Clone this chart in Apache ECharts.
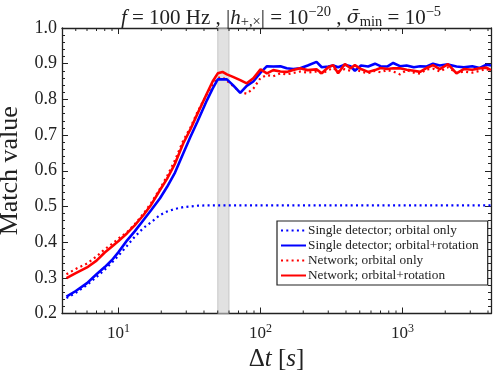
<!DOCTYPE html>
<html>
<head>
<meta charset="utf-8">
<script src="https://cdn.jsdelivr.net/npm/echarts@6/dist/echarts.min.js"></script>
<style>html,body{margin:0;padding:0;background:#fff;}#c{width:499px;height:372px;}</style>
</head>
<body>
<div id="c"></div>
<script>
const dt = [4.3, 5, 6, 7, 8, 9, 10, 11.5, 13, 15, 17, 19.6, 22, 25, 28.6, 32, 36, 42, 46, 50, 54, 58, 64, 72, 80, 89, 100, 111, 123, 138, 153, 170, 190, 215, 248, 270, 300, 325, 352, 393, 430, 462, 510, 573, 640, 700, 780, 860, 960, 1070, 1200, 1330, 1480, 1640, 1830, 2090, 2400, 2700, 3100, 3500, 3900, 4200];

const singleOrbital = [0.243, 0.258, 0.28, 0.302, 0.323, 0.343, 0.362, 0.39, 0.415, 0.44, 0.456, 0.476, 0.486, 0.493, 0.498, 0.5, 0.502, 0.503, 0.503, 0.503, 0.503, 0.503, 0.503, 0.503, 0.503, 0.503, 0.503, 0.503, 0.503, 0.503, 0.503, 0.503, 0.503, 0.503, 0.503, 0.503, 0.503, 0.503, 0.503, 0.503, 0.503, 0.503, 0.503, 0.503, 0.503, 0.503, 0.503, 0.503, 0.503, 0.503, 0.503, 0.503, 0.503, 0.503, 0.503, 0.503, 0.503, 0.503, 0.503, 0.503, 0.503, 0.503];

const singleRot = [0.247, 0.263, 0.285, 0.31, 0.33, 0.35, 0.372, 0.405, 0.43, 0.462, 0.49, 0.523, 0.555, 0.595, 0.649, 0.694, 0.738, 0.798, 0.83, 0.856, 0.856, 0.856, 0.84, 0.818, 0.838, 0.85, 0.875, 0.893, 0.892, 0.893, 0.887, 0.885, 0.887, 0.895, 0.905, 0.89, 0.892, 0.895, 0.89, 0.897, 0.893, 0.88, 0.895, 0.892, 0.9, 0.893, 0.892, 0.902, 0.893, 0.895, 0.89, 0.893, 0.892, 0.9, 0.895, 0.898, 0.892, 0.89, 0.893, 0.888, 0.897, 0.895];

const netOrbital = [0.31, 0.325, 0.34, 0.36, 0.38, 0.395, 0.41, 0.428, 0.45, 0.48, 0.51, 0.55, 0.585, 0.63, 0.685, 0.72, 0.765, 0.815, 0.842, 0.86, 0.862, 0.852, 0.838, 0.82, 0.816, 0.83, 0.86, 0.868, 0.865, 0.873, 0.87, 0.874, 0.878, 0.875, 0.878, 0.872, 0.882, 0.888, 0.878, 0.885, 0.88, 0.884, 0.878, 0.873, 0.88, 0.876, 0.882, 0.878, 0.87, 0.882, 0.875, 0.872, 0.884, 0.886, 0.878, 0.89, 0.874, 0.878, 0.875, 0.88, 0.885, 0.88];

const netRot = [0.299, 0.313, 0.329, 0.348, 0.371, 0.388, 0.403, 0.425, 0.447, 0.476, 0.505, 0.546, 0.578, 0.62, 0.677, 0.715, 0.76, 0.817, 0.85, 0.873, 0.877, 0.87, 0.863, 0.854, 0.845, 0.859, 0.884, 0.873, 0.882, 0.878, 0.877, 0.882, 0.887, 0.882, 0.884, 0.873, 0.89, 0.896, 0.873, 0.899, 0.887, 0.896, 0.885, 0.877, 0.882, 0.888, 0.885, 0.887, 0.887, 0.883, 0.88, 0.877, 0.888, 0.896, 0.885, 0.899, 0.873, 0.885, 0.883, 0.887, 0.889, 0.882];

const seriesNames = ['Single detector; orbital only', 'Single detector; orbital+rotation', 'Network; orbital only', 'Network; orbital+rotation'];
const yTicks = [0.2, 0.3, 0.4, 0.5, 0.6, 0.7, 0.8, 0.9, 1.0];
const band = [50, 60];
const xMin = 4, xMax = 4200;

const FONT = '"Liberation Serif", "DejaVu Serif", serif';
const INK = '#222';
const pairs = arr => dt.map((x, i) => [x, arr[i]]);

// minor tick positions for the log axis (2..9 x 10^k)
const minorX = [];
for (let k = 0; k <= 3; k++) {
  for (let m = 2; m <= 9; m++) {
    const v = m * Math.pow(10, k);
    if (v > xMin && v < xMax) minorX.push([v, 0.2]);
  }
}

const chart = echarts.init(document.getElementById('c'), null, {renderer: 'canvas'});
const axisCommon = {
  axisLine: {lineStyle: {color: INK, width: 1.3}},
  splitLine: {show: false},
};
chart.setOption({
  animation: false,
  backgroundColor: '#fff',
  title: {
    text: '{i|f} = 100 Hz , |{i|h}{sub|+,×}| = 10{sup|−20} , {s|σ̄}{sub|min} = 10{sup|−5}',
    left: 276, top: 0, textAlign: 'center',
    textStyle: {
      fontFamily: FONT, fontSize: 21, fontWeight: 'normal', color: INK,
      rich: {
        i: {fontFamily: FONT, fontSize: 21, fontStyle: 'italic', color: INK},
        s: {fontFamily: '"DejaVu Serif", serif', fontSize: 19, fontStyle: 'italic', color: INK},
        sup: {fontFamily: FONT, fontSize: 14.5, color: INK, padding: [0, 0, 11, 0]},
        sub: {fontFamily: FONT, fontSize: 14.5, color: INK, padding: [8, 0, 0, 0]}
      }
    }
  },
  grid: {left: 62, top: 28, width: 429, height: 285.5, containLabel: false, outerBoundsMode: 'none'},
  legend: {
    data: seriesNames,
    orient: 'vertical',
    left: 277, top: 221,
    backgroundColor: '#fff',
    borderColor: INK, borderWidth: 1.2,
    padding: [3, 9, 3, 3],
    itemGap: 2,
    itemWidth: 25, itemHeight: 14,
    itemStyle: {opacity: 0},
    textStyle: {fontFamily: FONT, fontSize: 13.3, color: INK, padding: [0, 0, 0, -3]}
  },
  xAxis: [
    Object.assign({
      type: 'log', logBase: 10, min: xMin, max: xMax, position: 'bottom',
      name: 'Δ{i|t} [{i|s}]', nameLocation: 'middle', nameGap: 32,
      nameTextStyle: {fontFamily: FONT, fontSize: 25, color: INK,
        rich: {i: {fontFamily: FONT, fontSize: 25, fontStyle: 'italic', color: INK}}},
      axisTick: {inside: true, length: 6, lineStyle: {color: INK}},
      axisLabel: {
        showMinLabel: false, showMaxLabel: false, margin: 9,
        formatter: v => {
          const e = Math.round(Math.log10(v));
          if (Math.abs(Math.log10(v) - e) > 1e-6) return '';
          return '10{sup|' + e + '}';
        },
        fontFamily: FONT, fontSize: 17, color: INK,
        rich: {sup: {fontFamily: FONT, fontSize: 12, color: INK, padding: [0, 0, 10, 0]}}
      }
    }, axisCommon),
    Object.assign({
      type: 'log', logBase: 10, min: xMin, max: xMax, position: 'top',
      axisTick: {inside: true, length: 6, lineStyle: {color: INK}},
      axisLabel: {show: false}
    }, axisCommon)
  ],
  yAxis: [
    Object.assign({
      type: 'value', min: yTicks[0], max: yTicks[yTicks.length - 1], interval: 0.1, position: 'left',
      name: 'Match value', nameLocation: 'middle', nameGap: 34, nameRotate: 90,
      nameTextStyle: {fontFamily: FONT, fontSize: 26, color: INK},
      axisTick: {inside: true, length: 6, lineStyle: {color: INK}},
      minorTick: {show: true, splitNumber: 5, length: 3, lineStyle: {color: INK}},
      axisLabel: {margin: 5, fontFamily: FONT, fontSize: 18, color: INK, formatter: v => v.toFixed(1)}
    }, axisCommon),
    Object.assign({
      type: 'value', min: yTicks[0], max: yTicks[yTicks.length - 1], interval: 0.1, position: 'right',
      axisTick: {inside: true, length: 6, lineStyle: {color: INK}},
      minorTick: {show: true, splitNumber: 5, length: 3, lineStyle: {color: INK}},
      axisLabel: {show: false}
    }, axisCommon)
  ],
  series: [
    {
      name: 'minorTicks', type: 'custom', coordinateSystem: 'cartesian2d',
      xAxisIndex: 0, yAxisIndex: 0, silent: true, clip: false, z: 5,
      data: minorX,
      renderItem: (params, api) => {
        const x = api.value(0);
        const b = api.coord([x, yTicks[0]]);
        const t = api.coord([x, yTicks[yTicks.length - 1]]);
        const st = {stroke: INK, lineWidth: 1};
        return {type: 'group', children: [
          {type: 'line', shape: {x1: b[0], y1: b[1], x2: b[0], y2: b[1] - 3}, style: st},
          {type: 'line', shape: {x1: t[0], y1: t[1], x2: t[0], y2: t[1] + 3}, style: st}
        ]};
      }
    },
    {
      name: seriesNames[0], type: 'line', data: pairs(singleOrbital), showSymbol: false, symbol: 'none',
      color: '#0000ff', lineStyle: {color: '#0000ff', width: 2.2, type: [2, 3.3]}, z: 3,
      markArea: {
        silent: true,
        itemStyle: {color: 'rgba(205,205,205,0.6)', borderColor: 'rgba(175,175,175,0.6)', borderWidth: 1},
        data: [[{xAxis: band[0]}, {xAxis: band[1]}]]
      }
    },
    {
      name: seriesNames[1], type: 'line', data: pairs(singleRot), showSymbol: false, symbol: 'none',
      color: '#0000ff', lineStyle: {color: '#0000ff', width: 2.6}, z: 4
    },
    {
      name: seriesNames[2], type: 'line', data: pairs(netOrbital), showSymbol: false, symbol: 'none',
      color: '#ff0000', lineStyle: {color: '#ff0000', width: 2.2, type: [2, 3.3]}, z: 3
    },
    {
      name: seriesNames[3], type: 'line', data: pairs(netRot), showSymbol: false, symbol: 'none',
      color: '#ff0000', lineStyle: {color: '#ff0000', width: 2.6}, z: 4
    }
  ]
});
</script>
</body>
</html>
